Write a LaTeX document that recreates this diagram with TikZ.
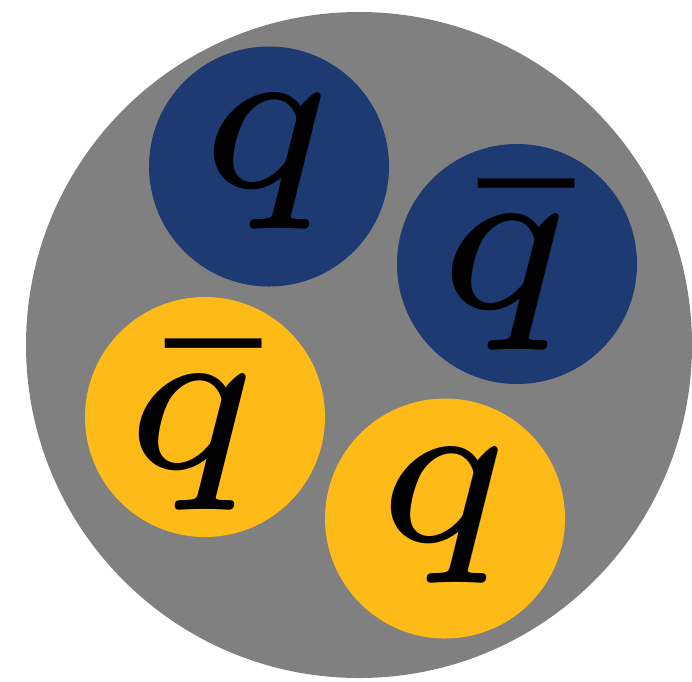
\documentclass[tikz,border=0pt]{standalone}
\usepackage{amsmath}
\usepackage{graphicx}
\usepackage{xcolor}
\definecolor{hadrongray}{RGB}{128,128,128}
\definecolor{quarkblue}{RGB}{29,58,114}
\definecolor{quarkyellow}{RGB}{254,186,22}
\usetikzlibrary{positioning}
\newcommand{\bigq}[1]{\scalebox{43}{$\scriptscriptstyle #1$}}

\begin{document}
\begin{tikzpicture}[x=1pt,y=-1pt,
      hadron/.style={circle,fill=hadrongray,inner sep=0pt,minimum size=666pt},
      quark/.style={circle,inner sep=0pt,minimum size=240pt},
      flavour/.style={inner sep=0pt,text=black}
    ]
    \useasboundingbox (0,0) rectangle (692,681);
    \node[hadron] at (359,345) (had) {};
    \node[quark,fill=quarkblue] at (269,166.5) (qb) {};
    \node[quark,fill=quarkblue] at (517,264) (qbbar) {};
    \node[quark,fill=quarkyellow] at (205,417) (qybar) {};
    \node[quark,fill=quarkyellow] at (445,518.5) (qy) {};
    \node[flavour] at ([shift={(-3,-4)}]qb.center) (lqb) {\bigq{q}};
    \node[flavour] at ([shift={(-13,3)}]qbbar.center) (lqbbar) {\bigq{\bar{q}}};
    \node[flavour] at ([shift={(-14,10)}]qybar.center) (lqybar) {\bigq{\bar{q}}};
    \node[flavour] at ([shift={(-2,-2)}]qy.center) (lqy) {\bigq{q}};
  \end{tikzpicture}
\end{document}
